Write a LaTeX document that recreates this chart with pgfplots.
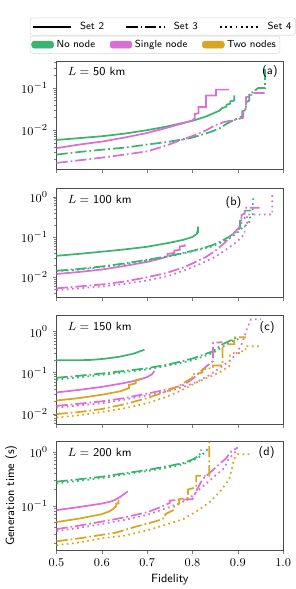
\documentclass[border=0pt]{standalone}
\usepackage{pgfplots}
\pgfplotsset{compat=1.18}
\definecolor{cg}{RGB}{60,179,113}
\definecolor{cp}{RGB}{218,112,214}
\definecolor{co}{RGB}{218,165,32}
\tikzset{
  s2/.style={line width=1.3pt},
  s3/.style={line width=1.3pt, dash pattern=on 8.5pt off 2.2pt on 1.3pt off 2.2pt},
  s4/.style={line width=1.3pt, dash pattern=on 1.3pt off 2.6pt},
}
\pgfplotsset{
  panel/.style={
    scale only axis, width=170.5pt, height=81.75pt,
    xmin=0.5, xmax=1.0,
    xtick={0.5,0.6,0.7,0.8,0.9,1.0},
    tick align=outside, xtick pos=bottom, ytick pos=left,
    major tick length=3pt, minor tick length=1.7pt,
    axis line style={black!70},
    tick label style={font=\fontsize{9.5}{10}\selectfont},
    label style={font=\sffamily\fontsize{9}{10}\selectfont},
    anchor=north west,
  },
  noxlab/.style={xticklabels={}},
}
\newcommand{\ann}[1]{{\sffamily\fontsize{9}{10}\selectfont #1}}
\begin{document}
\begin{tikzpicture}
\path (-42.5pt,45.75pt) rectangle (177.2pt,-396pt);
% ---------------- (a)
\begin{axis}[panel, noxlab, ymode=log, at={(0pt,0pt)}, ymin=1.15e-3, ymax=0.44,
  legend style={at={(-0.1175,1.397)}, anchor=north west, draw=black!15, rounded corners=2pt,
    font=\sffamily\fontsize{7.7}{9}\selectfont, inner sep=1pt,
    /tikz/every odd column/.append style={column sep=4pt},
    /tikz/every even column/.append style={column sep=14pt}},
  legend columns=3]
\addlegendimage{legend image code/.code={\draw[black, s2, line width=1.6pt] (0pt,0pt) -- (29pt,0pt);}}
\addlegendimage{legend image code/.code={\draw[black, s3, line width=1.6pt] (0pt,0pt) -- (29pt,0pt);}}
\addlegendimage{legend image code/.code={\draw[black, s4, line width=1.6pt] (0pt,0pt) -- (29pt,0pt);}}
\legend{Set 2, Set 3, Set 4}
\addplot[cg, s2] coordinates {(0.5,0.0058)(0.55,0.0064)(0.6,0.0071)(0.65,0.0082)(0.70,0.0099)(0.74,0.0119)(0.78,0.0148)(0.80,0.0165)(0.83,0.021)(0.85,0.026)(0.86,0.029)(0.865,0.033)(0.875,0.036)(0.875,0.040)(0.883,0.042)(0.883,0.048)(0.892,0.050)(0.892,0.066)};
\addplot[cp, s2] coordinates {(0.5,0.0037)(0.55,0.0045)(0.6,0.0053)(0.65,0.0066)(0.70,0.0085)(0.74,0.0110)(0.78,0.0145)(0.80,0.017)(0.805,0.019)(0.805,0.024)(0.813,0.025)(0.813,0.035)(0.83,0.035)(0.83,0.066)(0.852,0.066)(0.852,0.091)(0.88,0.091)};
\addplot[cg, s3] coordinates {(0.5,0.0026)(0.55,0.0030)(0.6,0.0034)(0.65,0.0038)(0.70,0.0045)(0.75,0.0053)(0.80,0.0066)(0.84,0.0090)(0.86,0.011)(0.88,0.015)(0.89,0.017)(0.9,0.019)(0.91,0.021)(0.91,0.028)(0.918,0.030)(0.918,0.045)(0.925,0.050)(0.925,0.068)(0.932,0.070)(0.932,0.085)(0.94,0.090)(0.945,0.10)(0.96,0.10)(0.96,0.30)};
\addplot[cp, s3] coordinates {(0.5,0.00165)(0.55,0.0019)(0.6,0.0022)(0.65,0.0026)(0.70,0.0031)(0.74,0.0042)(0.78,0.0060)(0.80,0.0072)(0.83,0.0098)(0.85,0.013)(0.87,0.0155)(0.9,0.018)(0.912,0.0195)(0.912,0.030)(0.918,0.032)(0.918,0.060)(0.93,0.064)(0.93,0.076)(0.96,0.076)};
\node[anchor=west] at (rel axis cs:0.029,0.9) {\ann{$L=$ 50 km}};
\node[anchor=east] at (rel axis cs:0.996,0.9) {\ann{(a)}};
\end{axis}
% ---------------- (b)
\begin{axis}[panel, noxlab, ymode=log, at={(0pt,-96pt)}, ymin=3.2e-3, ymax=1.6,
  legend style={at={(-0.1175,2.405)}, anchor=north west, draw=black!15, rounded corners=2pt,
    font=\sffamily\fontsize{7.7}{9}\selectfont, inner sep=1pt,
    /tikz/every even column/.append style={column sep=9pt}},
  legend columns=3]
\addlegendimage{legend image code/.code={\fill[cg] (0pt,-2.6pt) rectangle (16.5pt,2.6pt);}}
\addlegendimage{legend image code/.code={\fill[cp] (0pt,-2.6pt) rectangle (16.5pt,2.6pt);}}
\addlegendimage{legend image code/.code={\fill[co] (0pt,-2.6pt) rectangle (16.5pt,2.6pt);}}
\legend{No node, Single node, Two nodes}
\addplot[cg, s2] coordinates {(0.5,0.034)(0.55,0.038)(0.6,0.043)(0.65,0.049)(0.70,0.057)(0.75,0.072)(0.78,0.085)(0.80,0.10)(0.81,0.12)(0.81,0.13)(0.812,0.13)(0.812,0.18)};
\addplot[cp, s2] coordinates {(0.5,0.012)(0.55,0.0135)(0.6,0.0155)(0.65,0.019)(0.70,0.024)(0.73,0.029)(0.745,0.033)(0.745,0.038)(0.76,0.040)(0.76,0.046)(0.772,0.048)(0.772,0.058)(0.783,0.060)(0.783,0.065)};
\addplot[cg, s3] coordinates {(0.5,0.0145)(0.55,0.016)(0.6,0.0185)(0.65,0.022)(0.70,0.027)(0.75,0.034)(0.80,0.045)(0.84,0.060)(0.86,0.075)(0.88,0.10)(0.895,0.13)(0.905,0.17)(0.905,0.25)(0.915,0.28)(0.915,0.45)(0.93,0.45)};
\addplot[cg, s4] coordinates {(0.5,0.014)(0.55,0.0155)(0.6,0.018)(0.65,0.021)(0.70,0.026)(0.75,0.033)(0.80,0.044)(0.84,0.057)(0.86,0.070)(0.88,0.09)(0.9,0.13)(0.91,0.17)(0.925,0.22)(0.925,0.30)(0.933,0.32)(0.933,0.86)(0.94,0.86)};
\addplot[cp, s3] coordinates {(0.5,0.0053)(0.55,0.0059)(0.6,0.0066)(0.65,0.0078)(0.70,0.010)(0.74,0.0125)(0.78,0.0175)(0.80,0.022)(0.83,0.032)(0.85,0.045)(0.87,0.07)(0.89,0.12)(0.9,0.16)(0.908,0.20)(0.908,0.35)(0.915,0.38)(0.915,0.53)(0.948,0.53)};
\addplot[cp, s4] coordinates {(0.5,0.0048)(0.55,0.0053)(0.6,0.0059)(0.65,0.0068)(0.70,0.0083)(0.75,0.011)(0.79,0.016)(0.82,0.022)(0.85,0.032)(0.87,0.045)(0.89,0.065)(0.905,0.09)(0.915,0.12)(0.915,0.20)(0.92,0.22)(0.92,0.36)(0.976,0.36)(0.976,1.25)};
\node[anchor=west] at (rel axis cs:0.029,0.9) {\ann{$L=$ 100 km}};
\node[anchor=east] at (rel axis cs:0.837,0.875) {\ann{(b)}};
\end{axis}
% ---------------- (c)
\begin{axis}[panel, noxlab, ymode=log, at={(0pt,-191.6pt)}, ymin=5.55e-3, ymax=2.45]
\addplot[cg, s2] coordinates {(0.5,0.20)(0.55,0.20)(0.58,0.205)(0.61,0.22)(0.64,0.245)(0.67,0.29)(0.694,0.36)};
\addplot[cg, s3] coordinates {(0.5,0.075)(0.55,0.084)(0.6,0.095)(0.65,0.11)(0.70,0.128)(0.75,0.16)(0.80,0.22)(0.845,0.33)(0.866,0.49)(0.896,0.70)(0.9,0.72)};
\addplot[cg, s4] coordinates {(0.5,0.068)(0.55,0.077)(0.6,0.088)(0.65,0.102)(0.70,0.12)(0.75,0.15)(0.80,0.20)(0.845,0.30)(0.87,0.45)(0.89,0.60)(0.905,0.68)};
\addplot[cp, s2] coordinates {(0.5,0.033)(0.55,0.038)(0.6,0.045)(0.65,0.056)(0.68,0.066)(0.70,0.078)(0.71,0.09)(0.716,0.11)};
\addplot[co, s2] coordinates {(0.5,0.021)(0.55,0.024)(0.6,0.029)(0.64,0.035)(0.66,0.042)(0.66,0.050)(0.675,0.055)(0.675,0.065)(0.685,0.070)};
\addplot[cp, s3] coordinates {(0.5,0.0155)(0.55,0.0175)(0.6,0.020)(0.65,0.024)(0.70,0.031)(0.75,0.040)(0.78,0.050)(0.80,0.070)(0.815,0.10)(0.83,0.14)(0.845,0.19)(0.845,0.53)(0.866,0.55)};
\addplot[cp, s4] coordinates {(0.5,0.014)(0.55,0.016)(0.6,0.018)(0.65,0.022)(0.70,0.028)(0.75,0.036)(0.78,0.045)(0.81,0.060)(0.84,0.09)(0.86,0.13)(0.881,0.19)(0.896,0.28)(0.91,0.53)(0.921,1.24)(0.929,1.98)(0.951,1.98)};
\addplot[co, s3] coordinates {(0.5,0.0098)(0.55,0.011)(0.6,0.013)(0.65,0.017)(0.70,0.024)(0.74,0.034)(0.771,0.048)(0.78,0.056)(0.80,0.075)(0.80,0.091)(0.822,0.10)(0.822,0.12)(0.845,0.13)(0.845,0.15)(0.866,0.15)(0.866,0.49)(0.892,0.49)(0.892,0.73)(0.918,0.73)};
\addplot[co, s4] coordinates {(0.5,0.0081)(0.55,0.0092)(0.6,0.011)(0.65,0.0135)(0.70,0.018)(0.74,0.025)(0.771,0.035)(0.815,0.062)(0.859,0.10)(0.881,0.144)(0.883,0.28)(0.892,0.30)(0.91,0.30)(0.91,0.37)(0.92,0.37)(0.92,0.44)(0.951,0.44)};
\node[anchor=west] at (rel axis cs:0.029,0.9) {\ann{$L=$ 150 km}};
\node[anchor=east] at (rel axis cs:0.983,0.89) {\ann{(c)}};
\end{axis}
% ---------------- (d)
\begin{axis}[panel, ymode=log, at={(0pt,-286.1pt)}, ymin=1.53e-2, ymax=1.57,
  xlabel={Fidelity}, ylabel={Generation time (s)},
  xlabel style={at={(axis description cs:0.5,-0.27)}, anchor=center},
  ylabel style={at={(axis description cs:-0.2,0.5)}, anchor=center},
  xticklabel style={/pgf/number format/.cd, fixed, fixed zerofill, precision=1}]
\addplot[cg, s3] coordinates {(0.5,0.28)(0.55,0.31)(0.6,0.345)(0.65,0.40)(0.70,0.46)(0.75,0.55)(0.78,0.62)(0.80,0.72)(0.815,0.85)(0.82,1.1)};
\addplot[cg, s4] coordinates {(0.5,0.26)(0.55,0.29)(0.6,0.325)(0.65,0.38)(0.70,0.44)(0.75,0.52)(0.78,0.59)(0.80,0.68)(0.82,0.85)(0.837,1.2)};
\addplot[cp, s2] coordinates {(0.5,0.083)(0.55,0.095)(0.6,0.11)(0.62,0.12)(0.63,0.13)(0.64,0.145)(0.657,0.185)};
\addplot[co, s2] coordinates {(0.5,0.050)(0.55,0.058)(0.6,0.070)(0.615,0.078)(0.625,0.087)(0.632,0.10)(0.632,0.11)(0.637,0.11)(0.637,0.13)};
\addplot[cp, s3] coordinates {(0.5,0.037)(0.55,0.043)(0.6,0.051)(0.65,0.061)(0.70,0.076)(0.73,0.095)(0.75,0.113)(0.75,0.125)(0.80,0.133)(0.81,0.20)(0.822,0.31)(0.84,0.42)(0.86,0.60)(0.873,0.74)(0.885,1.0)(0.9,1.2)};
\addplot[cp, s4] coordinates {(0.5,0.034)(0.55,0.039)(0.6,0.046)(0.65,0.055)(0.70,0.068)(0.75,0.095)(0.79,0.13)(0.815,0.20)(0.85,0.36)(0.87,0.50)(0.88,0.74)(0.9,1.1)};
\addplot[co, s3] coordinates {(0.5,0.022)(0.55,0.025)(0.6,0.029)(0.632,0.032)(0.67,0.040)(0.72,0.052)(0.74,0.060)(0.74,0.070)(0.76,0.085)(0.76,0.10)(0.771,0.11)(0.771,0.133)(0.79,0.14)(0.79,0.20)(0.808,0.22)(0.808,0.36)(0.837,0.36)(0.837,1.6)};
\addplot[co, s4] coordinates {(0.5,0.0186)(0.55,0.021)(0.6,0.025)(0.65,0.028)(0.70,0.035)(0.75,0.047)(0.78,0.057)(0.81,0.08)(0.837,0.116)(0.86,0.18)(0.881,0.31)(0.892,0.74)(0.9,0.9)(0.93,0.9)};
\node[anchor=west] at (rel axis cs:0.029,0.9) {\ann{$L=$ 200 km}};
\node[anchor=east] at (rel axis cs:0.983,0.9) {\ann{(d)}};
\end{axis}
\end{tikzpicture}
\end{document}
